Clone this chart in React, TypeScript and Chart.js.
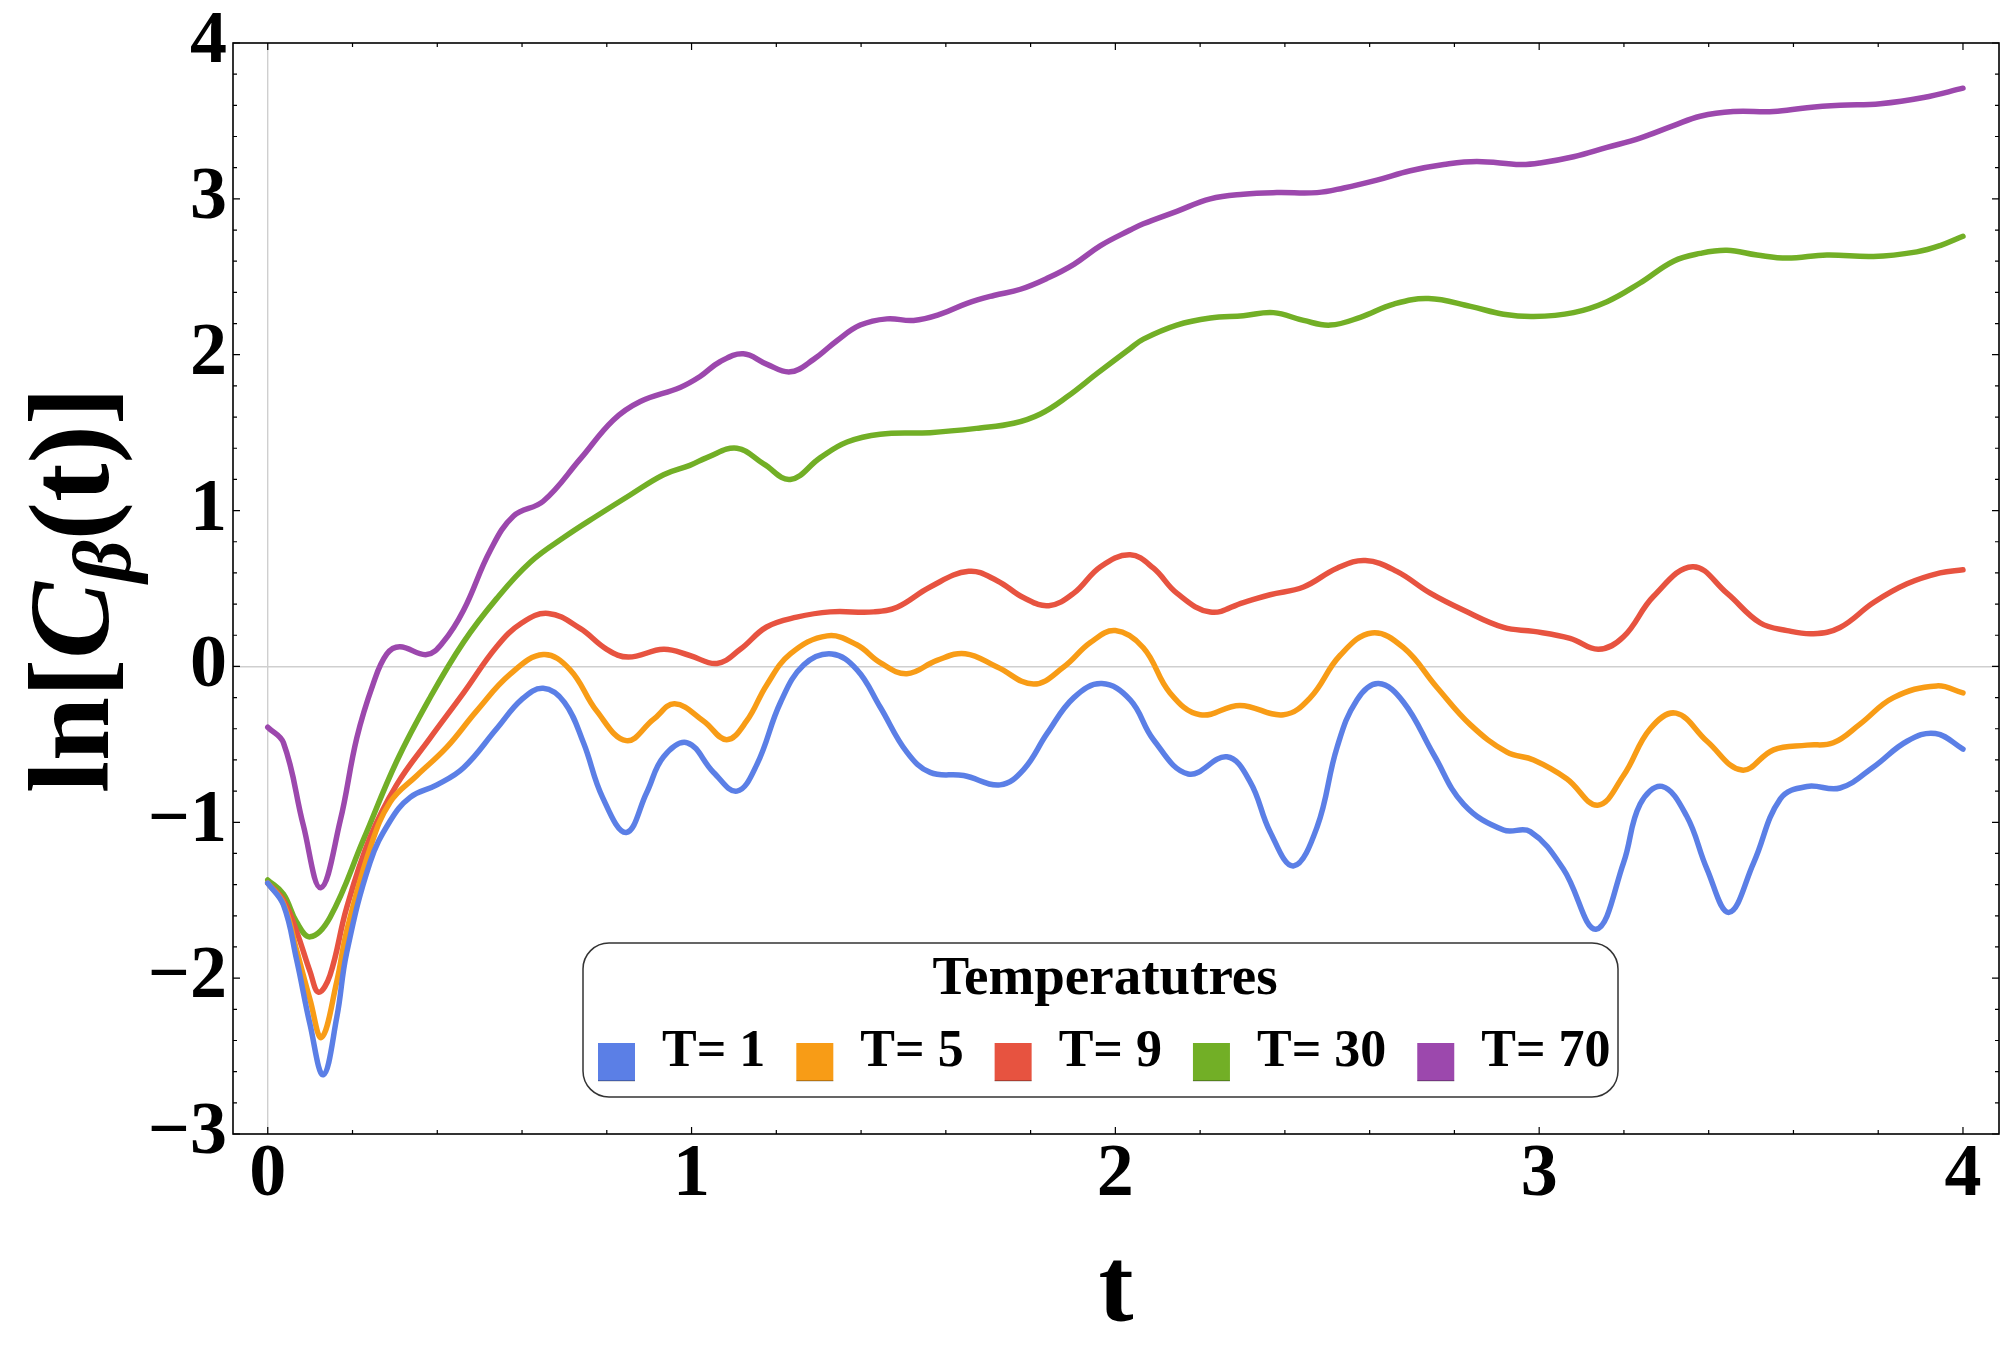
import React, { useEffect, useRef } from "react";
import { Chart, registerables, Plugin } from "chart.js";

Chart.register(...registerables);

// ---- data: [t, ln C_beta(t)] ----
const temperatures = [1, 5, 9, 30, 70];
const xTicks = [0, 1, 2, 3, 4];
const yTicks = [-3, -2, -1, 0, 1, 2, 3, 4];

const lnC_T1: [number, number][] = [
  [0, -1.39], [0.037, -1.53], [0.068, -1.88], [0.1, -2.3], [0.131, -2.62], [0.163, -2.25],
  [0.186, -1.84], [0.241, -1.26], [0.289, -0.99], [0.336, -0.84], [0.399, -0.76], [0.462, -0.65],
  [0.54, -0.4], [0.6, -0.21], [0.65, -0.14], [0.7, -0.23], [0.745, -0.49], [0.79, -0.84],
  [0.846, -1.065], [0.894, -0.81], [0.934, -0.58], [0.99, -0.49], [1.052, -0.68], [1.107, -0.8],
  [1.154, -0.63], [1.21, -0.23], [1.265, 0.01], [1.331, 0.08], [1.39, -0.02], [1.445, -0.26],
  [1.508, -0.55], [1.563, -0.68], [1.642, -0.7], [1.728, -0.76], [1.784, -0.66], [1.839, -0.43],
  [1.902, -0.2], [1.968, -0.11], [2.035, -0.215], [2.09, -0.47], [2.172, -0.69], [2.263, -0.58],
  [2.318, -0.74], [2.365, -1.06], [2.42, -1.28], [2.476, -1.03], [2.523, -0.52], [2.57, -0.215],
  [2.621, -0.11], [2.68, -0.23], [2.751, -0.565], [2.822, -0.885], [2.916, -1.05], [2.979, -1.06],
  [3.057, -1.3], [3.134, -1.686], [3.199, -1.26], [3.238, -0.885], [3.29, -0.77], [3.348, -0.96],
  [3.396, -1.3], [3.448, -1.578], [3.506, -1.26], [3.569, -0.85], [3.632, -0.77], [3.71, -0.78],
  [3.789, -0.645], [3.868, -0.48], [3.935, -0.43], [4.0, -0.53],
];

const lnC_T5: [number, number][] = [
  [0, -1.39], [0.037, -1.52], [0.068, -1.82], [0.1, -2.14], [0.127, -2.38], [0.163, -2.02],
  [0.186, -1.7], [0.241, -1.17], [0.289, -0.87], [0.352, -0.7], [0.422, -0.52], [0.493, -0.285],
  [0.572, -0.05], [0.65, 0.076], [0.713, -0.02], [0.776, -0.285], [0.846, -0.476], [0.91, -0.34],
  [0.96, -0.24], [1.028, -0.35], [1.083, -0.47], [1.13, -0.35], [1.177, -0.12], [1.233, 0.08],
  [1.32, 0.196], [1.39, 0.139], [1.445, 0.025], [1.508, -0.047], [1.579, 0.039], [1.646, 0.082],
  [1.721, -0.004], [1.807, -0.113], [1.878, -0.004], [1.941, 0.153], [2.0, 0.23], [2.066, 0.12],
  [2.129, -0.17], [2.2, -0.31], [2.294, -0.25], [2.397, -0.31], [2.46, -0.2], [2.53, 0.07],
  [2.605, 0.215], [2.68, 0.12], [2.759, -0.135], [2.838, -0.375], [2.924, -0.55], [2.987, -0.6],
  [3.065, -0.72], [3.138, -0.89], [3.199, -0.7], [3.262, -0.4], [3.323, -0.3], [3.396, -0.48],
  [3.478, -0.665], [3.553, -0.535], [3.632, -0.505], [3.694, -0.49], [3.757, -0.37], [3.836, -0.2],
  [3.938, -0.125], [4.0, -0.17],
];

const lnC_T9: [number, number][] = [
  [0, -1.39], [0.037, -1.5], [0.068, -1.7], [0.1, -1.96], [0.12, -2.09], [0.147, -1.98],
  [0.186, -1.55], [0.241, -1.1], [0.304, -0.76], [0.383, -0.46], [0.462, -0.17], [0.54, 0.126],
  [0.6, 0.28], [0.662, 0.34], [0.737, 0.244], [0.8, 0.11], [0.851, 0.06], [0.934, 0.11],
  [0.996, 0.07], [1.06, 0.019], [1.115, 0.11], [1.177, 0.253], [1.248, 0.316], [1.327, 0.35],
  [1.43, 0.35], [1.485, 0.38], [1.563, 0.51], [1.654, 0.61], [1.721, 0.55], [1.784, 0.44],
  [1.843, 0.39], [1.902, 0.47], [1.965, 0.64], [2.035, 0.716], [2.09, 0.63], [2.145, 0.47],
  [2.224, 0.349], [2.302, 0.41], [2.365, 0.46], [2.444, 0.51], [2.523, 0.63], [2.59, 0.68],
  [2.664, 0.61], [2.743, 0.47], [2.822, 0.36], [2.916, 0.25], [2.987, 0.225], [3.073, 0.18],
  [3.14, 0.11], [3.199, 0.19], [3.27, 0.45], [3.362, 0.64], [3.443, 0.47], [3.521, 0.28],
  [3.585, 0.23], [3.647, 0.21], [3.71, 0.25], [3.789, 0.41], [3.868, 0.53], [3.946, 0.6],
  [4.0, 0.62],
];

const lnC_T30: [number, number][] = [
  [0, -1.37], [0.037, -1.46], [0.068, -1.64], [0.1, -1.735], [0.147, -1.61], [0.226, -1.11],
  [0.304, -0.61], [0.383, -0.2], [0.462, 0.156], [0.54, 0.435], [0.62, 0.67], [0.7, 0.83],
  [0.776, 0.965], [0.855, 1.1], [0.934, 1.23], [0.996, 1.29], [1.036, 1.34], [1.107, 1.4],
  [1.17, 1.3], [1.233, 1.2], [1.304, 1.34], [1.367, 1.44], [1.445, 1.49], [1.563, 1.5],
  [1.681, 1.53], [1.76, 1.56], [1.823, 1.62], [1.886, 1.73], [1.957, 1.88], [2.035, 2.04],
  [2.066, 2.1], [2.145, 2.19], [2.224, 2.235], [2.302, 2.25], [2.373, 2.27], [2.444, 2.22],
  [2.507, 2.19], [2.578, 2.24], [2.657, 2.325], [2.739, 2.36], [2.838, 2.31], [2.916, 2.26],
  [2.987, 2.245], [3.081, 2.27], [3.16, 2.34], [3.238, 2.46], [3.317, 2.6], [3.38, 2.65],
  [3.443, 2.67], [3.514, 2.64], [3.585, 2.62], [3.679, 2.64], [3.789, 2.63], [3.891, 2.66],
  [3.946, 2.7], [4.0, 2.76],
];

const lnC_T70: [number, number][] = [
  [0, -0.39], [0.037, -0.49], [0.084, -1.02], [0.125, -1.42], [0.171, -0.99], [0.21, -0.46],
  [0.249, -0.11], [0.281, 0.08], [0.312, 0.126], [0.375, 0.076], [0.414, 0.156], [0.462, 0.36],
  [0.525, 0.744], [0.58, 0.965], [0.65, 1.06], [0.737, 1.33], [0.815, 1.58], [0.879, 1.7],
  [0.973, 1.79], [1.02, 1.86], [1.067, 1.955], [1.122, 2.006], [1.177, 1.94], [1.233, 1.89],
  [1.288, 1.97], [1.343, 2.09], [1.398, 2.19], [1.461, 2.23], [1.524, 2.22], [1.587, 2.26],
  [1.65, 2.33], [1.713, 2.38], [1.776, 2.42], [1.839, 2.49], [1.902, 2.58], [1.965, 2.7],
  [2.035, 2.8], [2.066, 2.84], [2.145, 2.92], [2.224, 3.0], [2.302, 3.03], [2.381, 3.04],
  [2.476, 3.04], [2.539, 3.07], [2.617, 3.12], [2.696, 3.18], [2.775, 3.22], [2.853, 3.24],
  [2.956, 3.22], [3.002, 3.23], [3.081, 3.27], [3.16, 3.33], [3.238, 3.39], [3.317, 3.47],
  [3.38, 3.53], [3.458, 3.56], [3.553, 3.56], [3.632, 3.585], [3.71, 3.6], [3.805, 3.61],
  [3.907, 3.65], [4.0, 3.71],
];

const seriesData = [lnC_T1, lnC_T5, lnC_T9, lnC_T30, lnC_T70];
const seriesColors = ["#5b7fe6", "#f89c16", "#e75340", "#72af26", "#9c48ad"];

const SERIF = '"Liberation Serif", "Times New Roman", serif';
const fmt = (v: number) => (v < 0 ? "\u2212" + Math.abs(v) : String(v));

// frame with inward ticks on all four sides (Mathematica style)
const framePlugin: Plugin = {
  id: "frame",
  afterDatasetsDraw(chart) {
    const { ctx, chartArea: a } = chart;
    const xs = chart.scales.x;
    const ys = chart.scales.y;
    ctx.save();
    ctx.strokeStyle = "#000";
    ctx.lineWidth = 1.6;
    ctx.strokeRect(a.left, a.top, a.right - a.left, a.bottom - a.top);
    ctx.lineWidth = 1.2;
    ctx.beginPath();
    for (let i = 0; i <= 20; i++) {
      const px = xs.getPixelForValue(i * 0.2);
      const len = i % 5 === 0 ? 7 : 4;
      ctx.moveTo(px, a.bottom);
      ctx.lineTo(px, a.bottom - len);
      ctx.moveTo(px, a.top);
      ctx.lineTo(px, a.top + len);
    }
    for (let i = 0; i <= 35; i++) {
      const py = ys.getPixelForValue(-3 + i * 0.2);
      const len = i % 5 === 0 ? 7 : 4;
      ctx.moveTo(a.left, py);
      ctx.lineTo(a.left + len, py);
      ctx.moveTo(a.right, py);
      ctx.lineTo(a.right - len, py);
    }
    ctx.stroke();
    ctx.restore();
  },
};

// axis titles: ln[C_β(t)] and t
const titlesPlugin: Plugin = {
  id: "titles",
  afterDraw(chart) {
    const { ctx } = chart;
    ctx.save();
    ctx.fillStyle = "#000";
    ctx.textBaseline = "alphabetic";

    const parts = [
      { s: "ln[", f: `bold 115px ${SERIF}`, dy: 0 },
      { s: "C", f: `italic bold 115px ${SERIF}`, dy: 0 },
      { s: "\u03b2", f: `italic bold 82px ${SERIF}`, dy: 22 },
      { s: "(t)]", f: `bold 115px ${SERIF}`, dy: 0 },
    ];
    let total = 0;
    const widths = parts.map((p) => {
      ctx.font = p.f;
      const w = ctx.measureText(p.s).width;
      total += w;
      return w;
    });
    ctx.translate(108, 590);
    ctx.rotate(-Math.PI / 2);
    let x = -total / 2;
    parts.forEach((p, i) => {
      ctx.font = p.f;
      ctx.textAlign = "left";
      ctx.fillText(p.s, x, p.dy);
      x += widths[i];
    });
    ctx.setTransform(1, 0, 0, 1, 0, 0);

    ctx.font = `bold 105px ${SERIF}`;
    ctx.textAlign = "center";
    ctx.fillText("t", 1116, 1320);
    ctx.restore();
  },
};

// rounded legend box inside the plot
const legendPlugin: Plugin = {
  id: "boxLegend",
  afterDraw(chart) {
    const { ctx } = chart;
    const bx = 583, by = 943, bw = 1035, bh = 154, r = 26;
    ctx.save();
    ctx.beginPath();
    ctx.roundRect(bx, by, bw, bh, r);
    ctx.fillStyle = "#fff";
    ctx.fill();
    ctx.lineWidth = 1.5;
    ctx.strokeStyle = "#333";
    ctx.stroke();

    ctx.fillStyle = "#000";
    ctx.textAlign = "center";
    ctx.textBaseline = "alphabetic";
    ctx.font = `bold 55px ${SERIF}`;
    ctx.fillText("Temperatutres", 1105, 994);

    ctx.font = `bold 52px ${SERIF}`;
    ctx.textAlign = "left";
    let x = 598;
    chart.data.datasets.forEach((ds) => {
      const col = ds.borderColor as string;
      ctx.fillStyle = col;
      ctx.fillRect(x, 1043, 37, 38);
      ctx.fillStyle = "rgba(0,0,0,0.25)";
      ctx.fillRect(x, 1080, 37, 1.5);
      x += 37 + 27;
      ctx.fillStyle = "#000";
      const label = ds.label as string;
      ctx.fillText(label, x, 1066);
      x += ctx.measureText(label).width + 31;
    });
    ctx.restore();
  },
};

const App: React.FC = () => {
  const canvasRef = useRef<HTMLCanvasElement | null>(null);
  const chartRef = useRef<Chart | null>(null);

  useEffect(() => {
    document.body.style.margin = "0";
    const ctx = canvasRef.current?.getContext("2d");
    if (!ctx) return;
    if (chartRef.current) chartRef.current.destroy();

    chartRef.current = new Chart(ctx, {
      type: "scatter",
      data: {
        datasets: seriesData.map((pts, i) => ({
          label: `T= ${temperatures[i]}`,
          data: pts.map(([t, v]) => ({ x: t, y: v })),
          showLine: true,
          borderColor: seriesColors[i],
          backgroundColor: seriesColors[i],
          borderWidth: 5.5,
          pointRadius: 0,
          tension: 0.4,
          borderJoinStyle: "round" as const,
          borderCapStyle: "round" as const,
        })),
      },
      options: {
        responsive: false,
        devicePixelRatio: 1,
        animation: false,
        layout: { padding: { top: 42, right: 1, left: 0, bottom: 0 } },
        plugins: {
          legend: { display: false },
          tooltip: { enabled: false },
        },
        scales: {
          x: {
            type: "linear",
            min: -0.082,
            max: 4.085,
            afterBuildTicks: (s) => {
              s.ticks = xTicks.map((v) => ({ value: v }));
            },
            afterFit: (s) => {
              s.height = 213;
            },
            ticks: {
              color: "#000",
              padding: 5,
              autoSkip: false,
              maxRotation: 0,
              font: { family: SERIF, size: 74, weight: "bold", lineHeight: 1 },
              callback: (v) => fmt(Number(v)),
            },
            grid: {
              drawTicks: false,
              lineWidth: 1.4,
              color: (c) => (c.tick && c.tick.value === 0 ? "#cfcfcf" : "rgba(0,0,0,0)"),
            },
            border: { display: false },
          },
          y: {
            type: "linear",
            min: -3,
            max: 4,
            afterBuildTicks: (s) => {
              s.ticks = yTicks.map((v) => ({ value: v }));
            },
            afterFit: (s) => {
              s.width = 233;
            },
            ticks: {
              color: "#000",
              padding: 6,
              autoSkip: false,
              font: { family: SERIF, size: 74, weight: "bold", lineHeight: 1 },
              callback: (v) => fmt(Number(v)),
            },
            grid: {
              drawTicks: false,
              lineWidth: 1.4,
              color: (c) => (c.tick && c.tick.value === 0 ? "#cfcfcf" : "rgba(0,0,0,0)"),
            },
            border: { display: false },
          },
        },
      },
      plugins: [framePlugin, titlesPlugin, legendPlugin],
    });

    return () => {
      if (chartRef.current) {
        chartRef.current.destroy();
        chartRef.current = null;
      }
    };
  }, []);

  return (
    <div style={{ width: 2000, height: 1347, background: "#fff" }}>
      <canvas ref={canvasRef} width={2000} height={1347} style={{ display: "block" }}></canvas>
    </div>
  );
};

export default App;
